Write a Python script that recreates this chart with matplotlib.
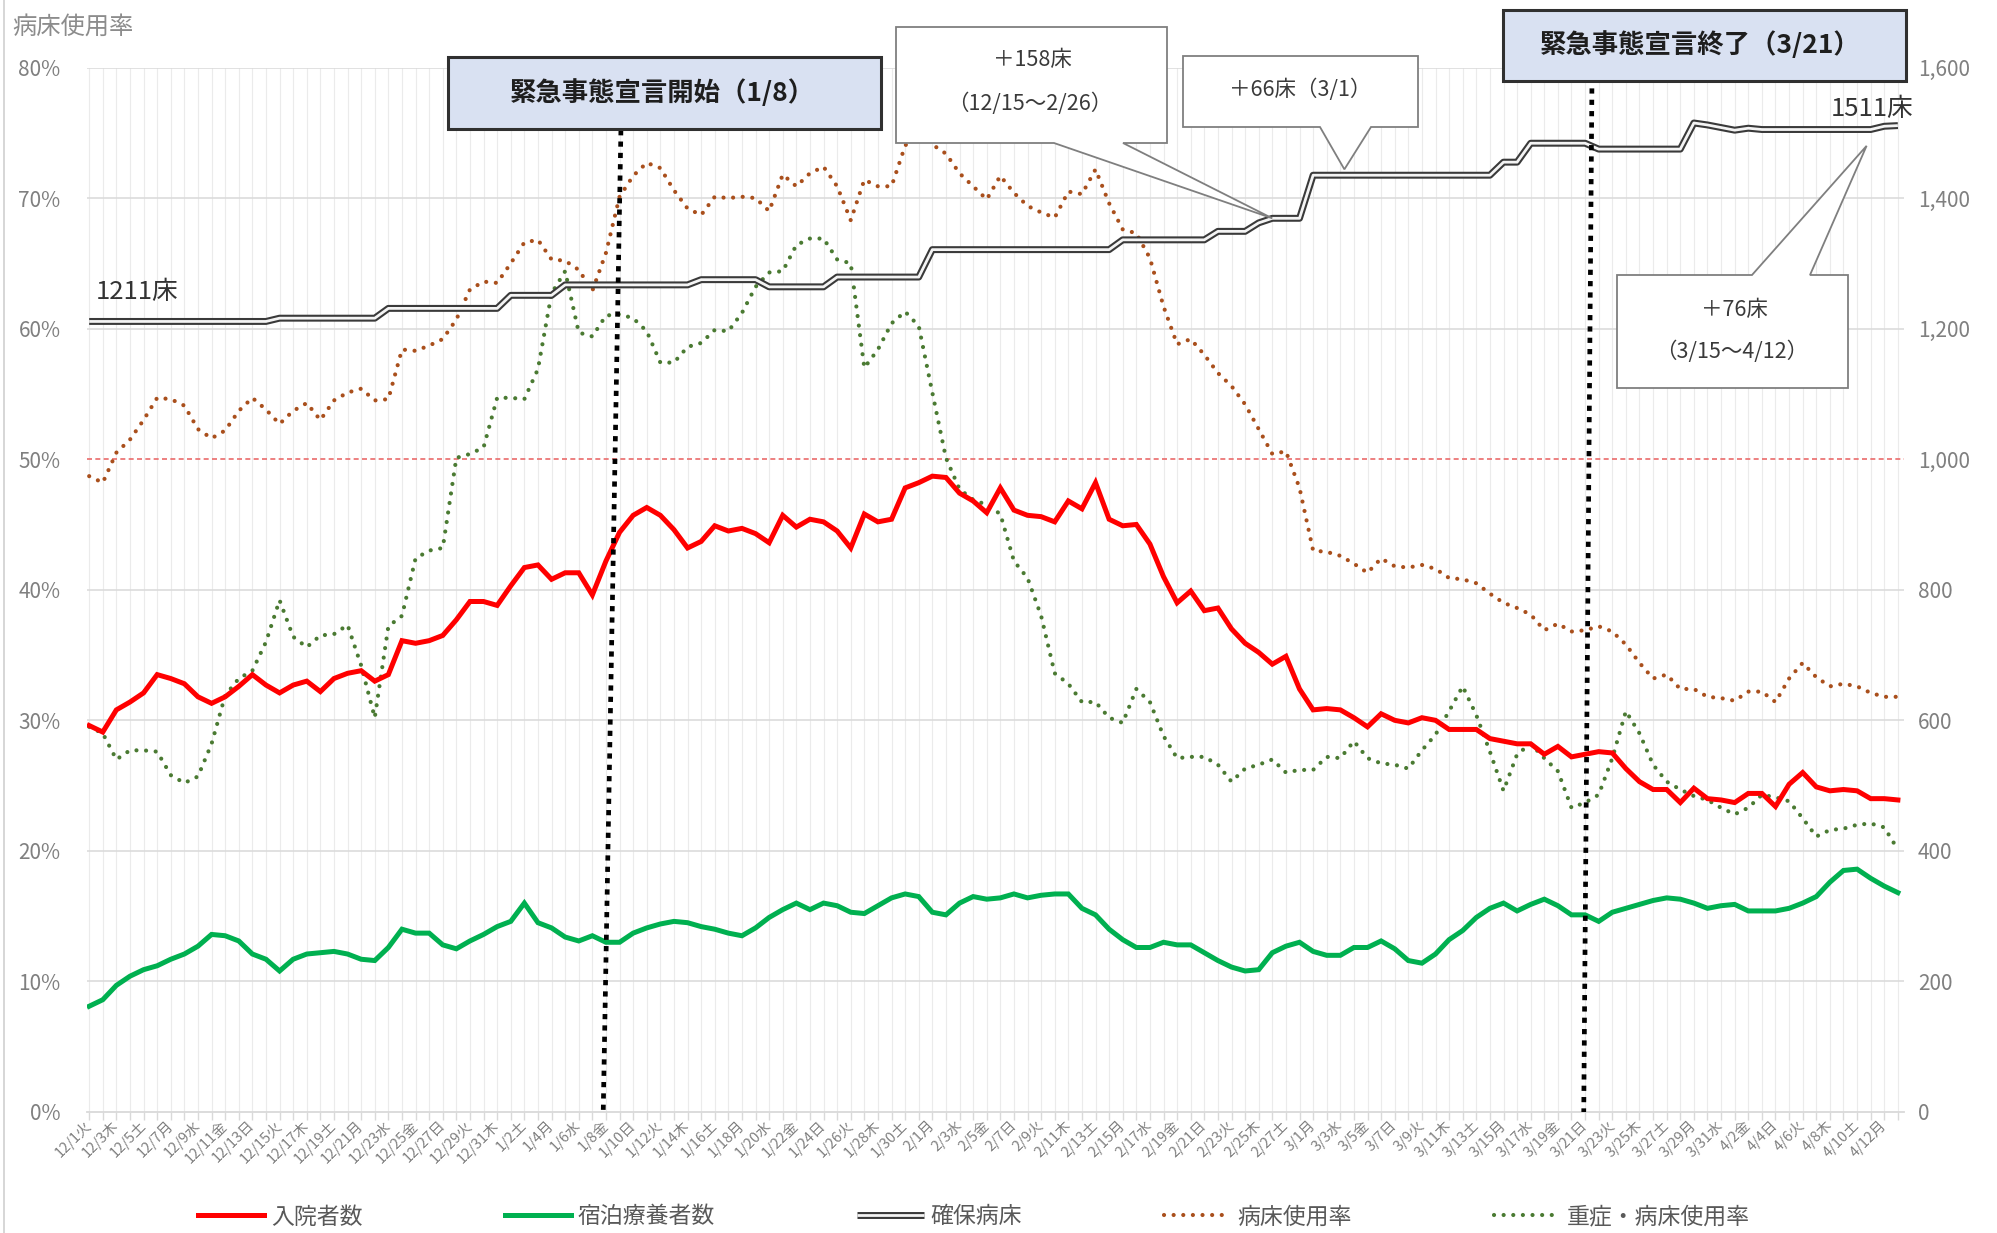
import numpy as np
import pandas as pd
import matplotlib
matplotlib.use("Agg")
import matplotlib.pyplot as plt
from matplotlib.lines import Line2D
from matplotlib.patches import Polygon, Rectangle
from matplotlib.legend_handler import HandlerTuple
from matplotlib.ticker import FuncFormatter

plt.rcParams['font.family'] = ['Noto Sans CJK JP', 'DejaVu Sans']

# ---------------------------------------------------------------- data
dates = pd.date_range('2020-12-01', '2021-04-13')
WEEKDAYS = ['月', '火', '水', '木', '金', '土', '日']
date_labels = [f"{d.month}/{d.day}{WEEKDAYS[d.weekday()]}" for d in dates]

# 入院者数 (persons, right axis)
hospitalized = [
    592, 582, 616, 628, 642, 670, 664, 656, 636, 626,
    636, 652, 670, 654, 642, 654, 660, 644, 664, 672,
    676, 660, 670, 722, 718, 722, 730, 754, 782, 782,
    776, 806, 834, 838, 816, 826, 826, 792, 844, 888,
    914, 926, 914, 892, 864, 874, 898, 890, 894, 886,
    872, 914, 896, 908, 904, 890, 864, 916, 904, 908,
    956, 964, 974, 972, 948, 936, 918, 956, 922, 914,
    912, 904, 936, 924, 964, 908, 898, 900, 870, 820,
    780, 798, 768, 772, 740, 718, 704, 686, 698, 648,
    616, 618, 616, 604, 590, 610, 600, 596, 604, 600,
    586, 586, 586, 572, 568, 564, 564, 548, 560, 544,
    548, 552, 550, 526, 506, 494, 494, 474, 496, 480,
    478, 474, 488, 488, 468, 502, 520, 498, 492, 494,
    492, 480, 480, 478,
]

# 宿泊療養者数 (persons, right axis)
hotel_care = [
    162, 172, 194, 208, 218, 224, 234, 242, 254, 272,
    270, 262, 242, 234, 216, 234, 242, 244, 246, 242,
    234, 232, 252, 280, 274, 274, 256, 250, 262, 272,
    284, 292, 320, 290, 282, 268, 262, 270, 260, 260,
    274, 282, 288, 292, 290, 284, 280, 274, 270, 282,
    298, 310, 320, 310, 320, 316, 306, 304, 316, 328,
    334, 330, 306, 302, 320, 330, 326, 328, 334, 328,
    332, 334, 334, 312, 302, 280, 264, 252, 252, 260,
    256, 256, 244, 232, 222, 216, 218, 244, 254, 260,
    246, 240, 240, 252, 252, 262, 250, 232, 228, 242,
    264, 278, 298, 312, 320, 308, 318, 326, 316, 302,
    302, 292, 306, 312, 318, 324, 328, 326, 320, 312,
    316, 318, 308, 308, 308, 312, 320, 330, 352, 370,
    372, 358, 346, 336,
]

# 確保病床 (beds, right axis)
secured_beds = [
    1211, 1211, 1211, 1211, 1211, 1211, 1211, 1211, 1211, 1211,
    1211, 1211, 1211, 1211, 1216, 1216, 1216, 1216, 1216, 1216,
    1216, 1216, 1231, 1231, 1231, 1231, 1231, 1231, 1231, 1231,
    1231, 1251, 1251, 1251, 1251, 1267, 1267, 1267, 1267, 1267,
    1267, 1267, 1267, 1267, 1267, 1275, 1275, 1275, 1275, 1275,
    1264, 1264, 1264, 1264, 1264, 1279, 1279, 1279, 1279, 1279,
    1279, 1279, 1321, 1321, 1321, 1321, 1321, 1321, 1321, 1321,
    1321, 1321, 1321, 1321, 1321, 1321, 1336, 1336, 1336, 1336,
    1336, 1336, 1336, 1349, 1349, 1349, 1362, 1369, 1369, 1369,
    1435, 1435, 1435, 1435, 1435, 1435, 1435, 1435, 1435, 1435,
    1435, 1435, 1435, 1435, 1455, 1455, 1484, 1484, 1484, 1484,
    1484, 1475, 1475, 1475, 1475, 1475, 1475, 1475, 1515, 1512,
    1508, 1504, 1507, 1505, 1505, 1505, 1505, 1505, 1505, 1505,
    1505, 1505, 1510, 1511,
]

# 病床使用率 (%, left axis)
bed_occupancy = [
    48.7, 48.2, 50.5, 51.5, 53.0, 54.7, 54.6, 54.1, 52.3, 51.6,
    52.2, 53.7, 54.7, 53.8, 52.7, 53.7, 54.3, 53.0, 54.5, 55.1,
    55.4, 54.5, 54.6, 58.4, 58.3, 58.7, 59.2, 60.7, 63.0, 63.6,
    63.5, 65.0, 66.6, 66.8, 65.3, 65.2, 64.5, 62.9, 65.8, 70.1,
    71.7, 72.7, 72.3, 70.6, 69.2, 68.7, 70.1, 70.0, 70.1, 70.0,
    69.0, 71.8, 70.9, 71.9, 72.4, 70.9, 68.3, 71.4, 70.9, 70.9,
    74.0, 75.4, 74.1, 73.4, 71.9, 70.9, 69.9, 71.7, 70.4, 69.4,
    68.9, 68.5, 70.5, 70.3, 72.2, 69.6, 67.6, 67.3, 65.4, 61.7,
    58.8, 59.2, 58.0, 56.6, 55.6, 54.2, 52.3, 50.4, 50.6, 47.8,
    43.0, 42.9, 42.6, 42.0, 41.3, 42.4, 41.8, 41.7, 41.9, 41.6,
    40.9, 40.8, 40.5, 39.7, 39.0, 38.6, 38.1, 36.9, 37.4, 36.8,
    36.9, 37.2, 36.8, 35.8, 34.4, 33.2, 33.5, 32.4, 32.4, 31.8,
    31.7, 31.5, 32.2, 32.2, 31.4, 33.2, 34.4, 33.3, 32.6, 32.8,
    32.6, 32.1, 31.8, 31.8,
]

# 重症・病床使用率 (%, left axis)
severe_occupancy = [
    29.5, 29.0, 27.0, 27.7, 27.7, 27.6, 25.8, 25.2, 25.7, 28.2,
    31.9, 33.2, 33.8, 36.0, 39.2, 36.4, 35.6, 36.5, 36.6, 37.3,
    34.2, 30.2, 37.2, 38.0, 42.4, 43.0, 43.2, 50.1, 50.4, 50.9,
    54.7, 54.7, 54.6, 56.9, 62.7, 64.4, 59.7, 59.4, 61.0, 61.1,
    60.8, 59.8, 57.4, 57.4, 58.6, 58.9, 59.9, 59.8, 61.2, 63.2,
    64.3, 64.4, 66.4, 66.9, 66.9, 65.3, 65.0, 57.0, 58.4, 60.4,
    61.3, 60.2, 55.1, 50.1, 47.7, 46.9, 46.5, 45.8, 42.2, 40.9,
    38.0, 33.6, 32.8, 31.4, 31.4, 30.2, 29.8, 32.4, 31.4, 28.8,
    27.1, 27.2, 27.2, 26.6, 25.3, 26.3, 26.6, 27.0, 26.0, 26.2,
    26.2, 27.2, 27.1, 28.4, 27.1, 26.7, 26.6, 26.3, 27.7, 28.9,
    30.7, 32.6, 30.4, 27.6, 24.6, 27.4, 28.2, 27.1, 26.1, 23.3,
    23.7, 24.3, 27.1, 30.7, 29.0, 26.6, 25.3, 24.7, 24.2, 23.9,
    23.3, 22.8, 23.3, 24.3, 24.1, 23.8, 22.5, 21.1, 21.6, 21.7,
    22.0, 22.1, 21.8, 20.1,
]

pct_ticks = [0, 10, 20, 30, 40, 50, 60, 70, 80]
bed_ticks = [0, 200, 400, 600, 800, 1000, 1200, 1400, 1600]
threshold_pct = 50

# ---------------------------------------------------------------- figure
W, H = 1997, 1233
fig = plt.figure(figsize=(W / 100, H / 100), dpi=100)
fig.patch.set_facecolor('white')

def fpx(x, y):
    """pixel position measured from the top-left corner -> figure fraction"""
    return (x / W, 1 - y / H)

ax_left, ax_right, ax_top, ax_bottom = 87, 1904, 67.5, 1112
ax = fig.add_axes([ax_left / W, 1 - ax_bottom / H,
                   (ax_right - ax_left) / W, (ax_bottom - ax_top) / H])
ax2 = ax.twinx()

n = len(dates)
x = np.arange(n)

GRID = '#d9d9d9'
TICK_GRAY = '#808080'

ax.set_xlim(-0.16, n - 1 + 0.45)
ax.set_ylim(pct_ticks[0], pct_ticks[-1])
ax2.set_ylim(bed_ticks[0], bed_ticks[-1])

# grid: daily vertical lines, 10% horizontal lines
for xi in x:
    ax.axvline(xi, color='#ebebeb', lw=0.8, zorder=0)
for p in pct_ticks[1:]:
    if p == threshold_pct:
        continue
    ax.axhline(p, color=GRID, lw=1.1, zorder=0.5)
ax.axhline(threshold_pct, color='#ea6b6b', lw=1.2, ls=(0, (3, 2)), zorder=0.6)

for a in (ax, ax2):
    for s in ('left', 'right', 'top'):
        a.spines[s].set_visible(False)
ax.spines['bottom'].set_color(GRID)
ax.spines['bottom'].set_linewidth(1.3)
ax2.spines['bottom'].set_visible(False)

ax.set_yticks(pct_ticks)
ax.yaxis.set_major_formatter(FuncFormatter(lambda v, _: f"{int(v)}%"))
ax.tick_params(axis='y', length=0, pad=19, labelsize=15, labelcolor=TICK_GRAY)
ax2.set_yticks(bed_ticks)
ax2.yaxis.set_major_formatter(FuncFormatter(lambda v, _: f"{int(v):,}"))
ax2.tick_params(axis='y', length=0, pad=10, labelsize=15, labelcolor=TICK_GRAY)

ax.set_xticks(x)
ax.set_xticklabels([lab if i % 2 == 0 else '' for i, lab in enumerate(date_labels)])
ax.tick_params(axis='x', length=6, width=1, color=GRID, pad=2,
               labelsize=10.5, labelcolor=TICK_GRAY)
for lab in ax.get_xticklabels():
    lab.set_rotation(45)
    lab.set_ha('right')
    lab.set_va('center')
    lab.set_rotation_mode('anchor')

# ---------------------------------------------------------------- series
BROWN = '#a94f1c'
DKGREEN = '#4a7a32'
RED = '#ff0000'
GREEN = '#00b050'
DOTS = (0, (0.01, 2.3))

l_occ, = ax.plot(x, bed_occupancy, color=BROWN, lw=3.0,
                 ls=DOTS, dash_capstyle='round', zorder=3)
l_sev, = ax.plot(x, severe_occupancy, color=DKGREEN, lw=3.0,
                 ls=DOTS, dash_capstyle='round', zorder=3)

l_hosp, = ax2.plot(x, hospitalized, color=RED, lw=3.6, zorder=3,
                   solid_joinstyle='miter')
l_hotel, = ax2.plot(x, hotel_care, color=GREEN, lw=3.6, zorder=3,
                    solid_joinstyle='miter')
l_beds_o, = ax2.plot(x, secured_beds, color='#3a3a3a', lw=5.0, zorder=4,
                     solid_capstyle='butt')
l_beds_i, = ax2.plot(x, secured_beds, color='#f4f4f4', lw=2.0, zorder=4.1,
                     solid_capstyle='butt')

# state-of-emergency start / end markers (drawn as slightly slanted shapes)
event_lines = [((39.1, 37.8), (1504, 0)), ((110.5, 109.9), (1568, 0))]
for xs, ys in event_lines:
    ax2.plot(xs, ys, color='black', lw=3.4, ls=(0, (1.1, 1.3)),
             dash_capstyle='butt', zorder=6, clip_on=False)

# ---------------------------------------------------------------- annotations
def data_to_fig(a, xd, yd):
    return fig.transFigure.inverted().transform(a.transData.transform((xd, yd)))

def callout(verts_px, tip, tip_index, edge='#7f7f7f'):
    pts = [fpx(*v) for v in verts_px]
    pts.insert(tip_index, tuple(data_to_fig(ax2, *tip)))
    fig.add_artist(Polygon(pts, closed=True, transform=fig.transFigure,
                           facecolor='white', edgecolor=edge, lw=1.3, zorder=8))

def blue_box(x0, y0, x1, y1, label, cx, cy):
    p0 = fpx(x0, y1)
    fig.add_artist(Rectangle(p0, (x1 - x0) / W, (y1 - y0) / H,
                             transform=fig.transFigure, facecolor='#d9e1f2',
                             edgecolor='#303030', lw=2.2, zorder=8))
    fig.text(*fpx(cx, cy), label, ha='center', va='center', fontsize=19,
             fontweight='bold', color='#1e1e1e', zorder=9)

TXT = '#3a3a3a'

# +158床 callout (pointer from bottom edge)
callout([(896, 27), (1167, 27), (1167, 143), (1123, 143), (1054, 143), (896, 143)],
        (87, 1369), 4)
fig.text(*fpx(1032, 60), '＋158床', ha='center', va='center', fontsize=15.5,
         color=TXT, zorder=9)
fig.text(*fpx(1030, 104), '（12/15～2/26）', ha='center', va='center',
         fontsize=15.5, color=TXT, zorder=9)

# +66床 callout
callout([(1183, 56), (1418, 56), (1418, 127), (1371, 127), (1320, 127), (1183, 127)],
        (92.3, 1444), 4)
fig.text(*fpx(1300, 90), '＋66床（3/1）', ha='center', va='center', fontsize=15.5,
         color=TXT, zorder=9)

# +76床 callout (pointer from top edge)
callout([(1617, 275), (1752, 275), (1810, 275), (1848, 275), (1848, 388), (1617, 388)],
        (130.7, 1480), 2)
fig.text(*fpx(1734, 310), '＋76床', ha='center', va='center', fontsize=15.5,
         color=TXT, zorder=9)
fig.text(*fpx(1732, 352), '（3/15～4/12）', ha='center', va='center',
         fontsize=15.5, color=TXT, zorder=9)

blue_box(448, 57, 881, 129, '緊急事態宣言開始（1/8）', 662, 93)
blue_box(1503, 10, 1906, 81, '緊急事態宣言終了（3/21）', 1700, 45)

fig.text(*fpx(137, 292), f'{secured_beds[0]}床', ha='center', va='center',
         fontsize=18.5, color='#333333', zorder=9)
fig.text(*fpx(1872, 109), f'{secured_beds[-1]}床', ha='center', va='center',
         fontsize=18.5, color='#333333', zorder=9)

fig.text(*fpx(12, 27), '病床使用率', ha='left', va='center', fontsize=17.5,
         color='#8c8c8c')

# thin chart frame on the left edge
fig.add_artist(Line2D([4 / W, 4 / W], [0, 1], transform=fig.transFigure,
                      color='#d0d0d0', lw=1.2))

# ---------------------------------------------------------------- legend
h_beds = (Line2D([], [], color='#3a3a3a', lw=5.0, solid_capstyle='butt'),
          Line2D([], [], color='#f4f4f4', lw=2.0, solid_capstyle='butt'))
handles = [l_hosp, l_hotel, h_beds, l_occ, l_sev]
labels = ['入院者数', '宿泊療養者数', '確保病床', '病床使用率', '重症・病床使用率']
fig.legend(handles, labels, loc='center', bbox_to_anchor=(0.4877, 0.013),
           ncol=5, frameon=False, fontsize=16.5, handlelength=2.9,
           handletextpad=0.3, columnspacing=6.2, labelcolor='#595959',
           handler_map={tuple: HandlerTuple(ndivide=1, pad=0)})

fig.savefig('out.png', dpi=100, facecolor='white')
